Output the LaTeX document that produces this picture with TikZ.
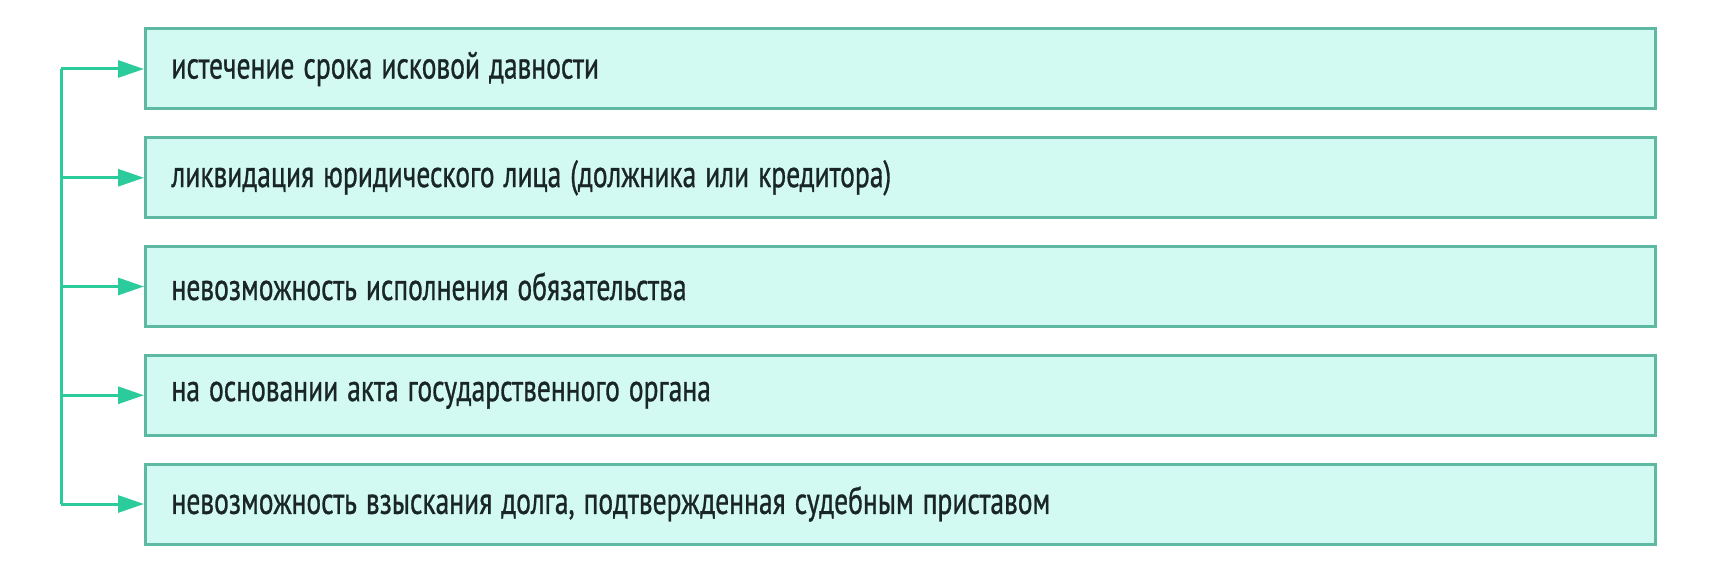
\documentclass[tikz,border=0pt]{standalone}
\usepackage{fontspec}
\setmainfont[FakeStretch=0.725,FakeBold=0.8]{PT Sans}
\usetikzlibrary{arrows.meta}
\definecolor{boxfill}{HTML}{D2FAF2}
\definecolor{boxline}{HTML}{5DB9A2}
\definecolor{arrowcol}{HTML}{2CCB9C}
\definecolor{txt}{HTML}{1A2626}
\tikzset{
  itembox/.style={draw=boxline, fill=boxfill, line width=3pt, anchor=west,
    minimum height=80pt, text width=1458pt, inner xsep=26pt, inner ysep=0pt,
    align=left, font=\fontsize{38}{42}\selectfont, text=txt,
    execute at begin node={\spaceskip=9pt\relax}},
  conn/.style={draw=arrowcol, line width=3pt},
  arr/.style={conn, -{Triangle[length=26pt,width=17pt]}}
}
\begin{document}
\begin{tikzpicture}[x=1pt,y=1pt]
\useasboundingbox (0,0) rectangle (1713,-580);
\node[itembox] (b1) at (144,-69) {истечение срока исковой давности};
\node[itembox] (b2) at (144,-177.75) {ликвидация юридического лица (должника или кредитора)};
\node[itembox] (b3) at (144,-286.5) {невозможность исполнения обязательства};
\node[itembox] (b4) at (144,-395.25) {на основании акта государственного органа};
\node[itembox] (b5) at (144,-504) {невозможность взыскания долга, подтвержденная судебным приставом};
\coordinate (t1) at (61,-69);
\coordinate (t2) at (61,-177.75);
\coordinate (t3) at (61,-286.5);
\coordinate (t4) at (61,-395.25);
\coordinate (t5) at (61,-504);
\draw[conn] (t1) -- (t5);
\foreach \i in {1,...,5} {\draw[arr] (t\i) -- (b\i.west);}
\end{tikzpicture}
\end{document}
